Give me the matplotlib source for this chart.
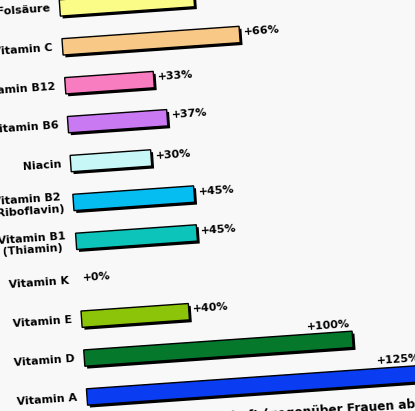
import matplotlib
matplotlib.use('Agg')
import matplotlib.pyplot as plt
import matplotlib.patheffects as pe
from matplotlib.transforms import Affine2D

# Mehrbedarf an Vitaminen, von unten nach oben
naehrstoffe = ['Vitamin A', 'Vitamin D', 'Vitamin E', 'Vitamin K',
               'Vitamin B1\n(Thiamin)', 'Vitamin B2\n(Riboflavin)', 'Niacin',
               'Vitamin B6', 'Vitamin B12', 'Vitamin C', 'Folsäure']
mehrbedarf = [125, 100, 40, 0, 45, 45, 30, 37, 33, 66, 50]
farben = ['#0a3cf2', '#05782c', '#8cc40a', '#ffffff', '#0cc4ba', '#06bdf2',
          '#c8f7f7', '#c97af2', '#f77cc0', '#f8c887', '#fbfb88']
fussnote = 'Mehrbedarf in der Schwangerschaft (gegenüber Frauen ab 25 Jahren)'

W, H = 415, 411
PX_PRO_PROZENT = 2.69
PX_PRO_ZEILE = 39
X0, Y0 = 87, 14      # linke Kante / Mitte von Vitamin A in Pixeln
WINKEL = 4

fig = plt.figure(figsize=(W / 100, H / 100), dpi=100)
fig.patch.set_facecolor('#f8f8f8')
ax = fig.add_axes([0, 0, 1, 1])
ax.set_xlim(-X0 / PX_PRO_PROZENT, (W - X0) / PX_PRO_PROZENT)
ax.set_ylim(-Y0 / PX_PRO_ZEILE, (H - Y0) / PX_PRO_ZEILE)
ax.axis('off')

# das ganze Diagramm ist leicht gedreht
rot = ax.transData + Affine2D().rotate_deg_around(X0, Y0, WINKEL)

schrift = dict(fontsize=8, fontweight='bold', family='DejaVu Sans',
               rotation=WINKEL, rotation_mode='anchor', transform=rot)

bars = ax.barh(range(len(mehrbedarf)), mehrbedarf, height=0.42, color=farben,
               edgecolor='black', linewidth=1.0)
for b, v in zip(bars, mehrbedarf):
    b.set_transform(rot)
    b.set_path_effects([pe.SimplePatchShadow(offset=(1.7, -1.7), shadow_rgbFace='black', alpha=1),
                        pe.Normal()])
    if v == 0:
        b.set_visible(False)

for i, (name, v) in enumerate(zip(naehrstoffe, mehrbedarf)):
    ax.text(-3.6, i, name, ha='right', va='center', multialignment='center', **schrift)
    if v >= 100:
        ax.text(v - 0.5, i + 0.27, '+%d%%' % v, ha='right', va='bottom', **schrift)
    else:
        ax.text(v + 1.6, i + 0.05, '+%d%%' % v, ha='left', va='center', **schrift)

schrift['fontsize'] = 8.7
ax.text(-28.3, -0.62, fussnote, ha='left', va='top', **schrift)

fig.savefig('out.png', dpi=100, facecolor=fig.get_facecolor())
